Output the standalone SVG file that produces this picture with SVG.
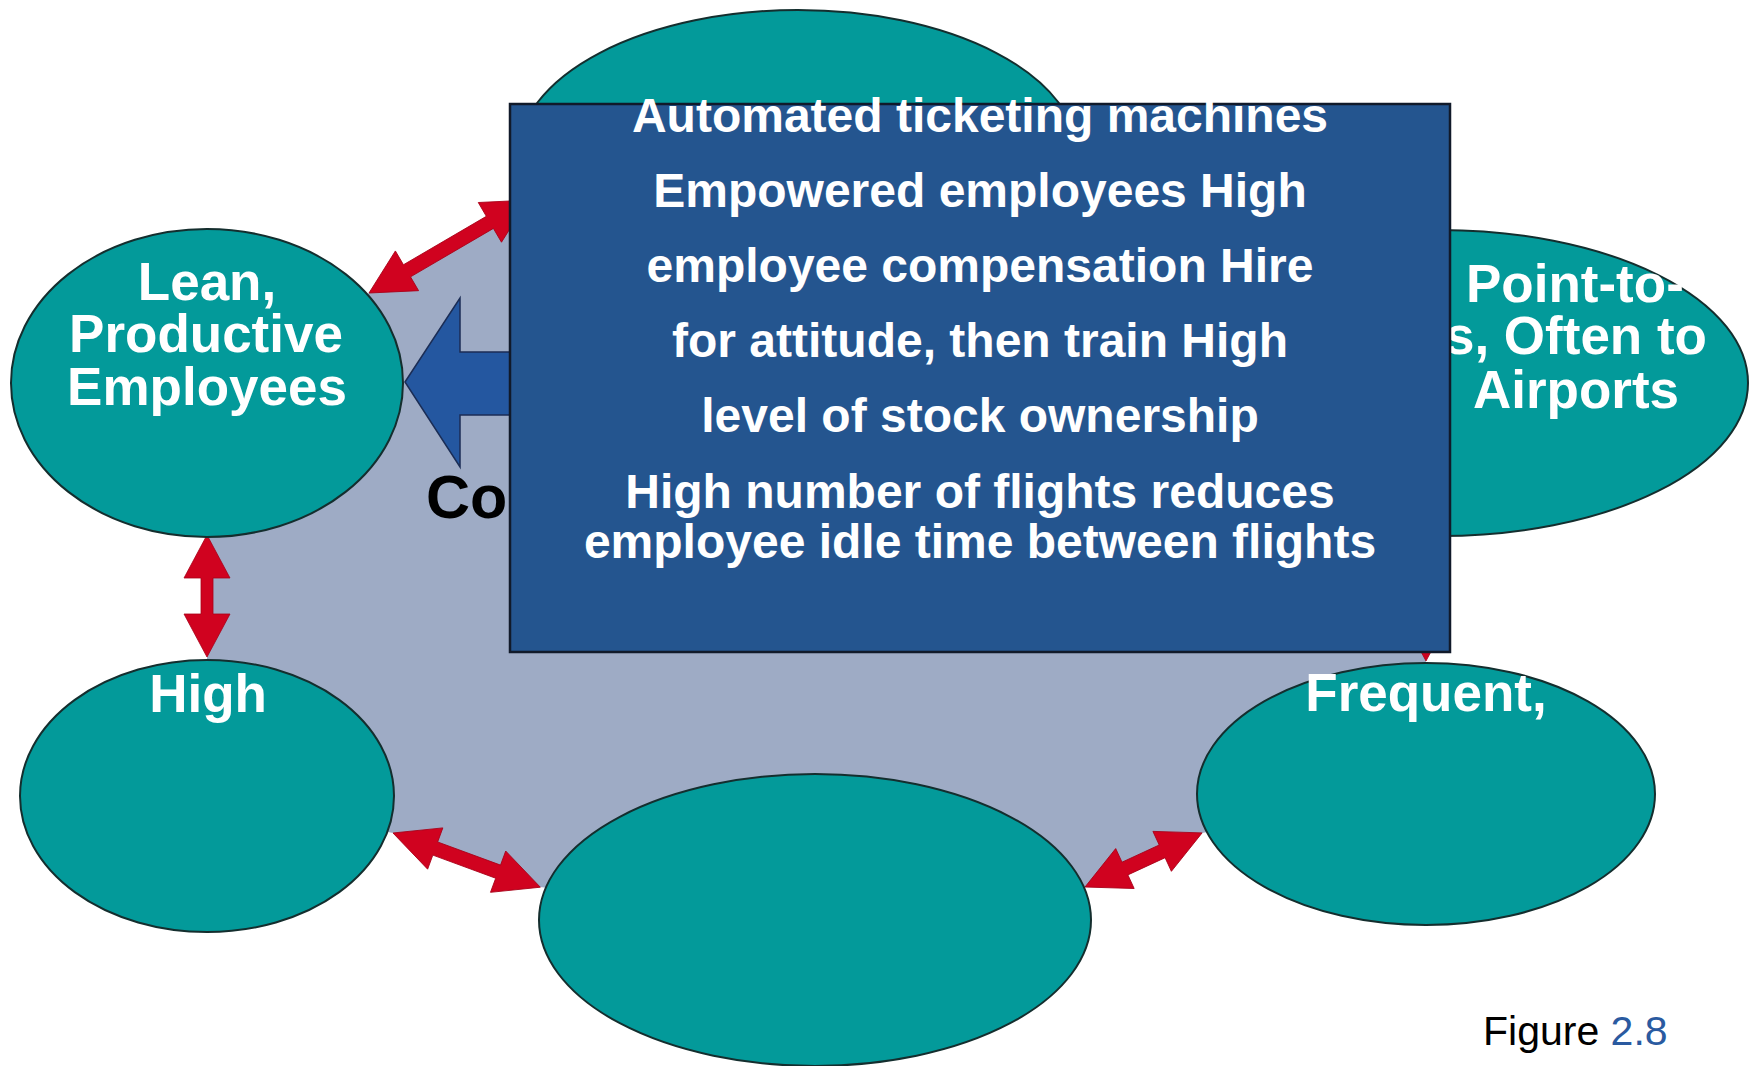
<svg xmlns="http://www.w3.org/2000/svg" width="1749" height="1066" viewBox="0 0 1749 1066">
<style>
.bg{fill:#9eabc5}
.node{fill:#039a9a;stroke:#142e2e;stroke-width:2}
.lbl{font-family:"Liberation Sans",Arial,sans-serif;font-weight:bold;font-size:53px;fill:#ffffff}
.red{fill:#d0021f;stroke:#a80018;stroke-width:0.8}
.box{fill:#24558f;stroke:#111a2a;stroke-width:2.5}
.boxtxt{font-family:"Liberation Sans",Arial,sans-serif;font-weight:bold;font-size:48px;fill:#ffffff;text-anchor:middle}
</style>
<rect width="1749" height="1066" fill="#ffffff"/>
<g id="background">
<polygon class="bg" points="207,383 369,293 528,200 798,156 1440,383 1426,480 1426,794 1202,833 1085,887 815,920 540,887 393,833 207,796"/>
</g>
<g id="connectors">
<polygon class="red" points="0,0 44,-23 44,-7 140,-7 140,-23 184,0 140,23 140,7 44,7 44,23" transform="translate(369,293) rotate(-30.3)"/>
<polygon class="red" points="0,0 43,-23 43,-6 79,-6 79,-23 122,0 79,23 79,6 43,6 43,23" transform="translate(207,535) rotate(90)"/>
<polygon class="red" points="0,0 45,-22 45,-7 112,-7 112,-22 157,0 112,22 112,7 45,7 45,22" transform="translate(393,833) rotate(20.2)"/>
<polygon class="red" points="0,0 44,-22 44,-7 85,-7 85,-22 129,0 85,22 85,7 44,7 44,22" transform="translate(1085,887) rotate(-24.8)"/>
<polygon class="red" points="0,0 43,-23 43,-6 82,-6 82,-23 125,0 82,23 82,6 43,6 43,23" transform="translate(1426,536) rotate(90)"/>
</g>
<g id="node-top">
<ellipse class="node" cx="798" cy="156" rx="280" ry="146"/>
</g>
<g id="node-lean">
<ellipse class="node" cx="207" cy="383" rx="196" ry="154"/>
<text class="lbl" text-anchor="middle" x="207" y="300">Lean,</text>
<text class="lbl" text-anchor="middle" x="206" y="352">Productive</text>
<text class="lbl" text-anchor="middle" x="207" y="405">Employees</text>
</g>
<g id="node-high">
<ellipse class="node" cx="207" cy="796" rx="187" ry="136"/>
<text class="lbl" text-anchor="middle" x="208" y="712">High</text>
</g>
<g id="node-bottom">
<ellipse class="node" cx="815" cy="920" rx="276" ry="146"/>
</g>
<g id="node-frequent">
<ellipse class="node" cx="1426" cy="794" rx="229" ry="131"/>
<text class="lbl" text-anchor="middle" x="1426" y="711">Frequent,</text>
</g>
<g id="node-point">
<ellipse class="node" cx="1440" cy="383" rx="308" ry="153"/>
<text class="lbl" x="1466" y="302">Point-to-</text>
<text class="lbl" text-anchor="end" x="1707" y="354">s, Often to</text>
<text class="lbl" text-anchor="middle" x="1576" y="408">Airports</text>
</g>
<g id="cost-arrow">
<polygon points="405,382 460,298 460,352 512,352 512,415 460,415 460,467" fill="#2457a0" stroke="#1b2d55" stroke-width="1.5"/>
<text x="426" y="518" font-family="Liberation Sans, Arial, sans-serif" font-weight="bold" font-size="61" fill="#000000">Co</text>
</g>
<g id="activities-box">
<rect class="box" x="510" y="104" width="940" height="548"/>
<text class="boxtxt" x="980" y="132">Automated ticketing machines</text>
<text class="boxtxt" x="980" y="207">Empowered employees High</text>
<text class="boxtxt" x="980" y="282">employee compensation Hire</text>
<text class="boxtxt" x="980" y="357">for attitude, then train High</text>
<text class="boxtxt" x="980" y="432">level of stock ownership</text>
<text class="boxtxt" x="980" y="508">High number of flights reduces</text>
<text class="boxtxt" x="980" y="558">employee idle time between flights</text>
</g>
<g id="caption">
<text x="1483" y="1045" font-family="Liberation Sans, Arial, sans-serif" font-size="41" fill="#000000">Figure <tspan fill="#2a5aa0">2.8</tspan></text>
</g>
</svg>
